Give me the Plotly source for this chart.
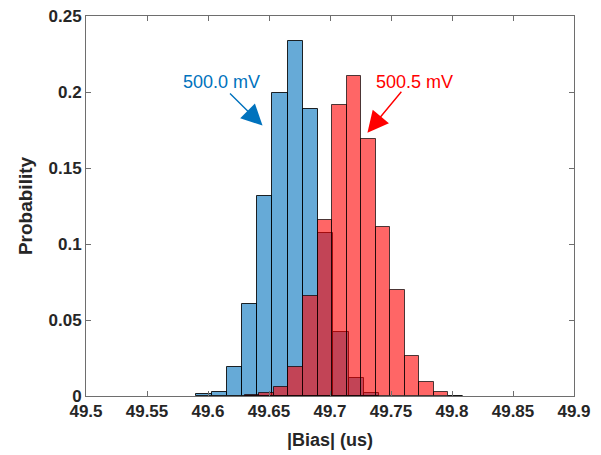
import plotly.graph_objects as go

# Histogram data (probability per bin)
blue_label = "500.0 mV"
blue_start = 49.5904
blue_width = 0.01248
blue_prob = [0.0015, 0.0028, 0.0188, 0.0607, 0.1317, 0.1993, 0.2335, 0.1887,
             0.1070, 0.0418, 0.0119, 0.0020]

red_label = "500.5 mV"
red_start = 49.6302
red_width = 0.01192
red_prob = [0.0005, 0.0020, 0.0060, 0.0188, 0.0659, 0.1155, 0.1913, 0.2106,
            0.1692, 0.1111, 0.0700, 0.0262, 0.0093, 0.0028, 0.0002]

x_ticks = [49.5, 49.55, 49.6, 49.65, 49.7, 49.75, 49.8, 49.85, 49.9]
x_tick_labels = ["49.5", "49.55", "49.6", "49.65", "49.7", "49.75", "49.8", "49.85", "49.9"]
y_ticks = [0, 0.05, 0.1, 0.15, 0.2, 0.25]
y_tick_labels = ["0", "0.05", "0.1", "0.15", "0.2", "0.25"]

def centers(start, width, n):
    return [start + width * (i + 0.5) for i in range(n)]

fig = go.Figure()
fig.add_trace(go.Bar(
    x=centers(blue_start, blue_width, len(blue_prob)), y=blue_prob, width=blue_width,
    marker=dict(color="rgba(0,114,189,0.6)", line=dict(color="rgba(0,0,0,0.85)", width=1)),
    name=blue_label, showlegend=False))
fig.add_trace(go.Bar(
    x=centers(red_start, red_width, len(red_prob)), y=red_prob, width=red_width,
    marker=dict(color="rgba(255,0,0,0.6)", line=dict(color="rgba(0,0,0,0.7)", width=1)),
    name=red_label, showlegend=False))

font_family = "Liberation Sans, Arial, sans-serif"
axcol = "#262626"
boxcol = "#6e6e6e"

# page body has an 8px margin, so the figure is 8px smaller than the window on each axis
fig.update_layout(
    width=593, height=447,
    margin=dict(l=78, r=27, t=8, b=59, autoexpand=False),
    paper_bgcolor="white", plot_bgcolor="white",
    barmode="overlay", bargap=0,
    font=dict(family=font_family, color=axcol),
    xaxis=dict(range=[49.5, 49.9], tickvals=x_ticks, ticktext=x_tick_labels,
               ticks="inside", ticklen=5, tickcolor=boxcol, mirror="ticks",
               showline=True, linecolor=boxcol, linewidth=1, showgrid=False, zeroline=False,
               ticklabeloverflow="allow", automargin=False,
               tickfont=dict(size=17, family=font_family, color=axcol, weight="bold"),
               title=dict(text="<b>|Bias| (us)</b>", font=dict(size=18, color=axcol), standoff=12)),
    yaxis=dict(range=[0, 0.25], tickvals=y_ticks, ticktext=y_tick_labels,
               ticks="inside", ticklen=5, tickcolor=boxcol, mirror="ticks",
               showline=True, linecolor=boxcol, linewidth=1, showgrid=False, zeroline=False,
               ticklabeloverflow="allow", automargin=False,
               tickfont=dict(size=17, family=font_family, color=axcol, weight="bold"),
               title=dict(text="<b>Probability</b>", font=dict(size=19, color=axcol), standoff=10)),
)

# Labels
fig.add_annotation(x=49.6107, y=0.2064, xref="x", yref="y", text=blue_label, showarrow=False,
                   font=dict(size=18, color="rgb(0,114,189)", family=font_family))
fig.add_annotation(x=49.7689, y=0.2064, xref="x", yref="y", text=red_label, showarrow=False,
                   font=dict(size=18, color="rgb(255,0,0)", family=font_family))
# Arrows
fig.add_annotation(x=49.6447, y=0.1779, ax=49.6168, ay=0.1999, xref="x", yref="y",
                   axref="x", ayref="y", text="", showarrow=True, arrowhead=2,
                   arrowsize=3, arrowwidth=1.4, arrowcolor="rgb(0,114,189)")
fig.add_annotation(x=49.7307, y=0.1732, ax=49.7595, ay=0.2012, xref="x", yref="y",
                   axref="x", ayref="y", text="", showarrow=True, arrowhead=2,
                   arrowsize=3, arrowwidth=1.4, arrowcolor="rgb(255,0,0)")

fig.write_html("out.html")
